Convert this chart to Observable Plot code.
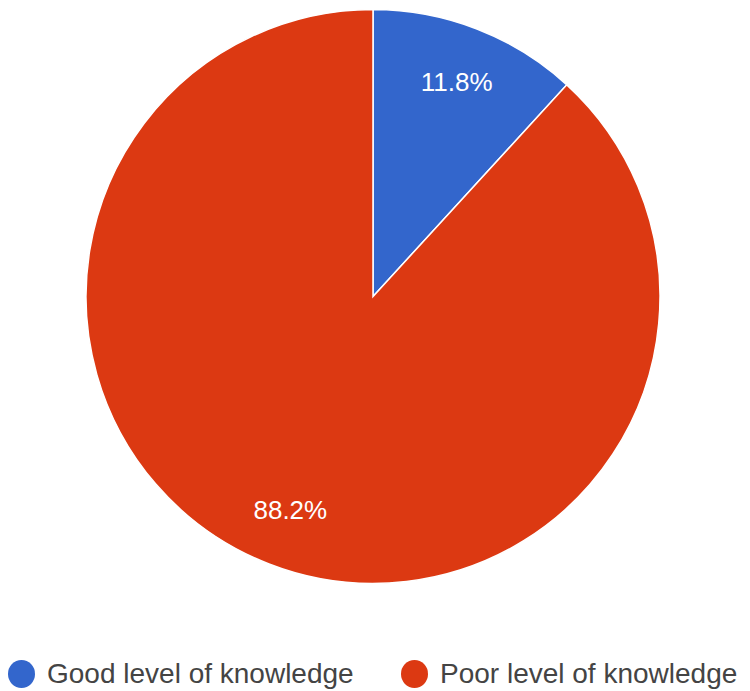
<!DOCTYPE html>
<html>
<head>
<meta charset="utf-8">
<script src="https://cdn.jsdelivr.net/npm/d3@7"></script>
<script src="https://cdn.jsdelivr.net/npm/@observablehq/plot@0.6"></script>
<style>
  html, body { margin: 0; padding: 0; background: #fff; }
  #chart { width: 750px; }
  .legend { display: flex; align-items: center; height: 91px; font-family: "Liberation Sans", Arial, sans-serif; font-size: 28px; color: #444; }
  .item { display: flex; align-items: center; }
  .sw { width: 27px; height: 28px; border-radius: 50%; display: inline-block; margin-right: 12px; }
</style>
</head>
<body>
<div id="chart"></div>
<script>
const categories = ["Good level of knowledge", "Poor level of knowledge"];
const values = [11.8, 88.2];
const labels = ["11.8%", "88.2%"];
const colors = ["#3366cc", "#dc3912"];

const data = categories.map((c, i) => ({category: c, value: values[i], label: labels[i]}));
const arcs = d3.pie().sort(null).value(d => d.value)(data);
const labelR = 0.8;
const labelData = arcs.map(a => {
  const m = (a.startAngle + a.endAngle) / 2;
  return {label: a.data.label, x: Math.sin(m) * labelR, y: Math.cos(m) * labelR};
});

const W = 750, H = 600, cx = 373, cy = 296.5, R = 287;

function pieMark(index, scales, values, dimensions) {
  const g = d3.create("svg:g");
  const x0 = scales.x(0), y0 = scales.y(0);
  const r = scales.x(1) - scales.x(0);
  const arc = d3.arc().innerRadius(0).outerRadius(r);
  g.selectAll("path").data(arcs).join("path")
    .attr("transform", `translate(${x0},${y0})`)
    .attr("d", arc)
    .attr("fill", d => scales.color(d.data.category))
    .attr("stroke", "#fff")
    .attr("stroke-width", 1.5);
  return g.node();
}

const plot = Plot.plot({
  width: W,
  height: H,
  margin: 0,
  x: {domain: [-cx / R, (W - cx) / R], range: [0, W], axis: null},
  y: {domain: [-(H - cy) / R, cy / R], range: [H, 0], axis: null},
  color: {domain: categories, range: colors},
  marks: [
    pieMark,
    Plot.text(labelData, {x: "x", y: "y", text: "label", fill: "#fff", fontSize: 26, fontFamily: "Liberation Sans, Arial, sans-serif"})
  ]
});
document.getElementById("chart").appendChild(plot);

const legend = d3.select("body").append("div").attr("class", "legend");
const positions = [8, 401];
categories.forEach((c, i) => {
  const it = legend.append("div").attr("class", "item")
    .style("position", "absolute").style("left", positions[i] + "px").style("top", (H + 58) + "px");
  it.append("span").attr("class", "sw").style("background", colors[i]);
  it.append("span").text(c);
});
</script>
</body>
</html>
